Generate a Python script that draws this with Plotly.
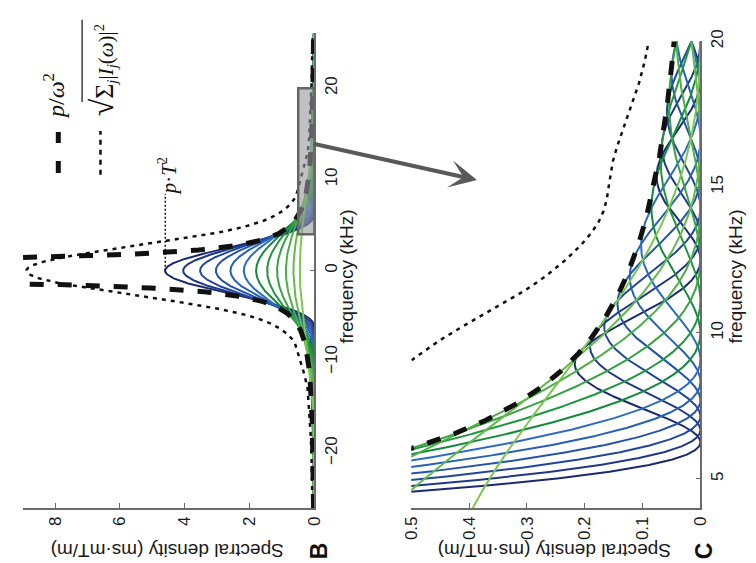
import numpy as np
import plotly.graph_objects as go

# ---- values ----
# triangular gradient pulses: |I_j(f)| = p*T_j^2 * sinc^2(f*T_j)
pulse_T_ms = [0.16, 0.15, 0.14, 0.13, 0.12, 0.11, 0.10, 0.09, 0.08, 0.07, 0.06, 0.05]
slope_p = 180.0          # p, peak of darkest curve = p*T^2 ~ 4.6
curve_colors = ["#1b2a70", "#1f3887", "#22469b", "#2453aa", "#2760b6", "#2b6cc1",
                "#148a3b", "#21963f", "#35a244", "#4caf47", "#62bb4a", "#7ac84d"]
freq_B = np.arange(-26.0, 26.0001, 0.02)   # kHz
freq_C = np.arange(4.0, 20.0001, 0.01)     # kHz

b_dens_ticks = [0, 2, 4, 6, 8]
b_dens_text = ["0", "2", "4", "6", "8"]
b_freq_ticks = [-20, -10, 0, 10, 20]
b_freq_text = ["\u221220", "\u221210", "0", "10", "20"]
c_dens_ticks = [0, 0.1, 0.2, 0.3, 0.4, 0.5]
c_dens_text = ["0", "0.1", "0.2", "0.3", "0.4", "0.5"]
c_freq_ticks = [5, 10, 15, 20]
c_freq_text = ["5", "10", "15", "20"]

zoom_box_dens = [0, 0.5]
zoom_box_freq = [4, 20]
peak_label_dens = 4.6


def spectrum(f, T):
    return slope_p * T ** 2 * np.sinc(f * T) ** 2


def envelope(f):
    f = np.asarray(f, dtype=float)
    out = np.full(f.shape, np.nan)
    m = np.abs(f) > 0.8
    out[m] = slope_p / (np.pi * f[m]) ** 2
    return out


def rss(f):
    return np.sqrt(sum(spectrum(f, T) ** 2 for T in pulse_T_ms))


fig = go.Figure()

for xa, ya, fr in (("x", "y", freq_B), ("x2", "y2", freq_C)):
    for T, c in zip(pulse_T_ms, curve_colors):
        fig.add_trace(go.Scatter(x=spectrum(fr, T), y=fr, mode="lines",
                                 line=dict(color=c, width=2), xaxis=xa, yaxis=ya,
                                 showlegend=False, hoverinfo="skip"))
    fig.add_trace(go.Scatter(x=rss(fr), y=fr, mode="lines",
                             line=dict(color="#111", width=2.5, dash="4px,5px"),
                             xaxis=xa, yaxis=ya, showlegend=False, hoverinfo="skip"))
    fig.add_trace(go.Scatter(x=envelope(fr), y=fr, mode="lines",
                             line=dict(color="#111", width=5, dash="14px,14px"),
                             xaxis=xa, yaxis=ya, showlegend=False, hoverinfo="skip"))

# p*T^2 marker line
fig.add_trace(go.Scatter(x=[peak_label_dens, peak_label_dens], y=[0, 8.4], mode="lines",
                         line=dict(color="#111", width=1.5, dash="2px,2px"),
                         xaxis="x", yaxis="y", showlegend=False, hoverinfo="skip"))
# legend samples
fig.add_trace(go.Scatter(x=[7.9, 7.9], y=[10.7, 15.2], mode="lines",
                         line=dict(color="#111", width=5, dash="12px,18px"),
                         xaxis="x", yaxis="y", showlegend=False, hoverinfo="skip"))
fig.add_trace(go.Scatter(x=[6.6, 6.6], y=[10.5, 15.3], mode="lines",
                         line=dict(color="#111", width=2.5, dash="5px,5px"),
                         xaxis="x", yaxis="y", showlegend=False, hoverinfo="skip"))

axis_common = dict(showline=True, linecolor="#6a6a6a", linewidth=1.5, ticks="inside",
                   ticklen=5, tickcolor="#6a6a6a", tickwidth=1.2, showgrid=False,
                   zeroline=False, tickangle=-90,
                   tickfont=dict(family="Liberation Sans", size=17, color="#1a1a1a"))

fig.update_layout(
    width=756, height=563, margin=dict(l=0, r=0, t=0, b=0),
    paper_bgcolor="white", plot_bgcolor="white",
    xaxis=dict(domain=[14 / 756, 313.3 / 756], range=[9, 0], anchor="y",
               tickvals=b_dens_ticks, ticktext=b_dens_text, **axis_common),
    yaxis=dict(domain=[0.1, 0.9611], range=[-26, 26], anchor="x", side="right",
               tickvals=b_freq_ticks, ticktext=b_freq_text, **axis_common),
    xaxis2=dict(domain=[412.7 / 756, 709.3 / 756], range=[0.5, 0], anchor="y2",
                tickvals=c_dens_ticks, ticktext=c_dens_text, **axis_common),
    yaxis2=dict(domain=[0.1, 0.9467], range=[4, 20], anchor="x2", side="right",
                tickvals=c_freq_ticks, ticktext=c_freq_text, **axis_common),
)

fig.add_shape(type="rect", xref="x", yref="y", x0=zoom_box_dens[0], x1=zoom_box_dens[1],
              y0=zoom_box_freq[0], y1=zoom_box_freq[1],
              fillcolor="rgba(150,150,158,0.6)", line=dict(color="#666", width=2.5),
              layer="above")


def px(xp, yp):
    return xp / 756, 1 - yp / 563


def label(xp, yp, text, angle, family, size, color="#1a1a1a"):
    x, y = px(xp, yp)
    return dict(x=x, y=y, xref="paper", yref="paper", text=text, textangle=angle,
                showarrow=False, xanchor="center", yanchor="middle",
                font=dict(family=family, size=size, color=color))


ann = []
sans = "Liberation Sans"
serif = "Liberation Serif"
for xp in (346, 745):
    ann.append(label(xp, 270, "frequency (kHz)", -90, sans, 19))
for xp in (162, 559):
    ann.append(label(xp, 550, "Spectral density (ms\u00b7mT/m)", 180, sans, 19))
ann.append(label(318, 551, "<b>B</b>", -90, sans, 23, "#111"))
ann.append(label(713, 551, "<b>C</b>", -90, sans, 23, "#111"))
# legend texts
ann.append(label(46, 86, "<i>p</i>/<i>\u03c9</i><sup>2</sup>", -90, serif, 24, "#111"))
ann.append(label(95, 60,
                 "<span style='font-size:32px'>\u221a</span>"
                 "<span style='font-size:26px'>\u03a3</span><sub><i>j</i></sub>"
                 "|<i>I</i><sub><i>j</i></sub>(<i>\u03c9</i>)|<sup>2</sup>",
                 -90, serif, 21, "#111"))
ann.append(label(163, 167, "<i>p</i>\u00b7<i>T</i><sup>2</sup>", -90, serif, 21, "#111"))
# arrow
x, y = px(480, 171.7)
ann.append(dict(x=x, y=y, xref="paper", yref="paper", ax=-165, ay=-36.7, text="",
                showarrow=True, arrowhead=3, arrowsize=1.15, arrowwidth=4,
                arrowcolor="#595959"))
fig.update_layout(annotations=ann)

# overline of the square root
fig.add_shape(type="line", xref="paper", yref="paper",
              x0=75 / 756, x1=75 / 756, y0=1 - 8 / 563, y1=1 - 92 / 563,
              line=dict(color="#111", width=1.2))

fig.write_html("out.html")
